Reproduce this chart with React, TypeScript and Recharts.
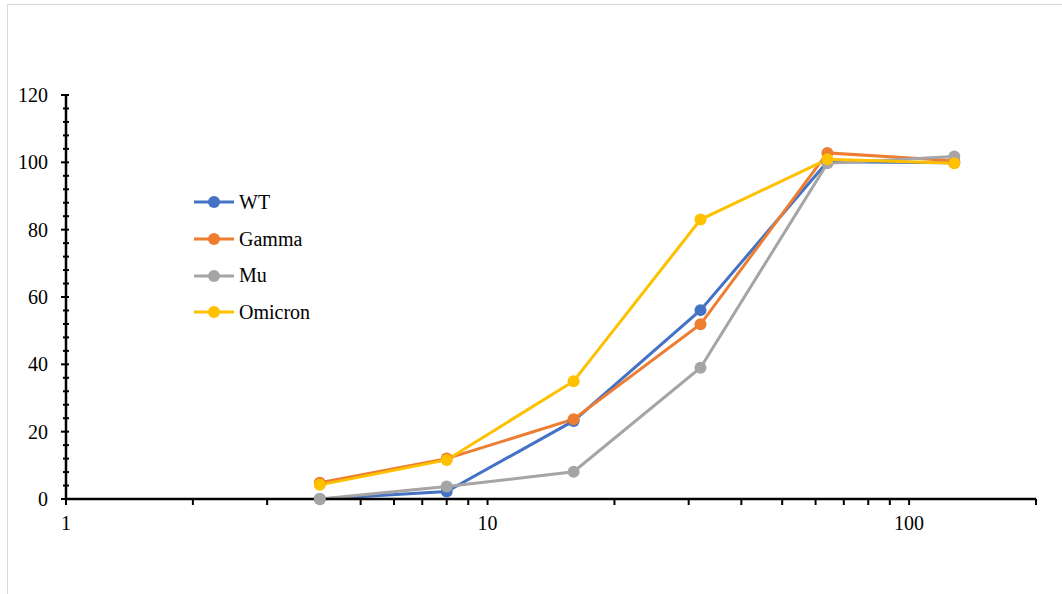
import React from 'react';
import { LineChart, Line, XAxis, YAxis } from 'recharts';

const DILUTIONS = [4, 8, 16, 32, 64, 128];
const WT = [0, 2.2, 23.2, 56.1, 100.2, 99.9];
const GAMMA = [4.8, 12, 23.7, 51.9, 102.8, 100.5];
const MU = [0, 3.7, 8.1, 39, 99.7, 101.7];
const OMICRON = [4.2, 11.6, 35, 83, 100.9, 99.7];

const X_TICKS = [1, 2, 3, 4, 5, 6, 7, 8, 9, 10, 20, 30, 40, 50, 60, 70, 80, 90, 100, 200];
const X_LABELS = [1, 10, 100];
const Y_TICKS = [0, 4, 8, 12, 16, 20, 24, 28, 32, 36, 40, 44, 48, 52, 56, 60, 64, 68, 72, 76, 80, 84, 88, 92, 96, 100, 104, 108, 112, 116, 120];
const Y_LABELS = [0, 20, 40, 60, 80, 100, 120];

const SERIES = [
  { key: 'wt', name: 'WT', color: '#4472C4' },
  { key: 'gamma', name: 'Gamma', color: '#ED7D31' },
  { key: 'mu', name: 'Mu', color: '#A5A5A5' },
  { key: 'omicron', name: 'Omicron', color: '#FFC000' },
];

const data = DILUTIONS.map((d, i) => ({
  dilution: d,
  wt: WT[i],
  gamma: GAMMA[i],
  mu: MU[i],
  omicron: OMICRON[i],
}));

const FONT = '"Liberation Serif", "Times New Roman", serif';

function YTick(props: any) {
  const { x, y, payload } = props;
  const major = Y_LABELS.includes(payload.value);
  return (
    <g>
      <line x1={x - (major ? 5 : 3)} x2={x + 3} y1={y} y2={y} stroke="#000" strokeWidth={2} />
      {major && (
        <text x={x - 18} y={y} dy="0.35em" textAnchor="end" fontFamily={FONT} fontSize={20} fill="#000">
          {payload.value}
        </text>
      )}
    </g>
  );
}

function XTick(props: any) {
  const { x, y, payload } = props;
  if (!X_LABELS.includes(payload.value)) return <g />;
  return (
    <text x={x} y={y + 16} dy="0.35em" textAnchor="middle" fontFamily={FONT} fontSize={20} fill="#000">
      {payload.value}
    </text>
  );
}

function LegendBox() {
  return (
    <div style={{ position: 'absolute', left: 194, top: 184, fontFamily: FONT, fontSize: 20, color: '#000' }}>
      {SERIES.map((s) => (
        <div key={s.key} style={{ height: 36.7, display: 'flex', alignItems: 'center' }}>
          <svg width={45} height={14} style={{ display: 'block' }}>
            <line x1={0} x2={40} y1={7} y2={7} stroke={s.color} strokeWidth={3} />
            <circle cx={20} cy={7} r={6} fill={s.color} />
          </svg>
          <span>{s.name}</span>
        </div>
      ))}
    </div>
  );
}

export default function App() {
  return (
    <div style={{ position: 'absolute', left: 0, top: 0, width: 1062, height: 594, background: '#fff' }}>
      <div
        style={{
          position: 'absolute',
          left: 7,
          top: 4,
          right: 0,
          bottom: 0,
          borderLeft: '1px solid #d9d9d9',
          borderTop: '1px solid #d9d9d9',
        }}
      />
      <div style={{ position: 'absolute', left: 0, top: 0 }}>
        <LineChart width={1062} height={594} data={data} margin={{ top: 95, right: 26, bottom: 0, left: 0 }}>
          <XAxis
            dataKey="dilution"
            type="number"
            scale="log"
            domain={[1, 200]}
            allowDataOverflow
            ticks={X_TICKS}
            interval={0}
            height={95}
            axisLine={{ stroke: '#000', strokeWidth: 2.5 }}
            tickLine={{ stroke: '#000', strokeWidth: 2 }}
            tickSize={6}
            tick={<XTick />}
          />
          <YAxis
            type="number"
            domain={[0, 120]}
            ticks={Y_TICKS}
            interval={0}
            width={66}
            axisLine={{ stroke: '#000', strokeWidth: 2.5 }}
            tickLine={false}
            tickSize={0}
            tickMargin={0}
            tick={<YTick />}
          />
          {SERIES.map((s) => (
            <Line
              key={s.key}
              dataKey={s.key}
              name={s.name}
              stroke={s.color}
              strokeWidth={3}
              dot={{ r: 6, fill: s.color, stroke: s.color, strokeWidth: 0 }}
              activeDot={false}
              isAnimationActive={false}
            />
          ))}
        </LineChart>
      </div>
      <LegendBox />
    </div>
  );
}
